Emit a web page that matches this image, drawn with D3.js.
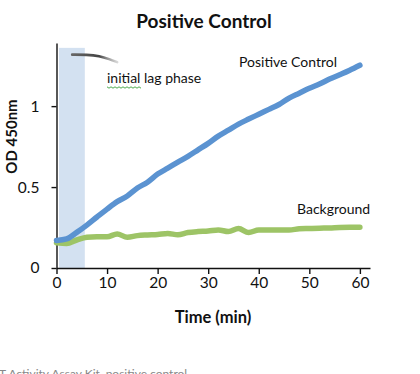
<!DOCTYPE html>
<html>
<head>
<meta charset="utf-8">
<script src="https://cdn.jsdelivr.net/npm/d3@7"></script>
<style>
  body { margin: 0; background: #fff; }
  text { font-family: Lato, "Open Sans", sans-serif; fill: #111; }
  .axis path, .axis line { stroke: #111; stroke-width: 1.4; }
  .axis text { font-size: 15.5px; }
</style>
</head>
<body>
<script>
// time points (min)
var minutes = [0,2,4,6,8,10,12,14,16,18,20,22,24,26,28,30,32,34,36,38,40,42,44,46,48,50,52,54,56,58,60];

// OD 450nm, positive control
var positive = [0.17,0.18,0.22,0.265,0.315,0.364,0.41,0.445,0.494,0.53,0.58,0.617,0.654,0.69,0.73,0.77,
                0.815,0.852,0.889,0.92,0.95,0.98,1.01,1.05,1.08,1.11,1.136,1.167,1.194,1.222,1.253];

// OD 450nm, background
var background = [0.156,0.152,0.173,0.19,0.193,0.193,0.21,0.19,0.2,0.204,0.207,0.213,0.205,0.219,0.225,0.228,
                  0.235,0.225,0.244,0.219,0.235,0.235,0.235,0.235,0.242,0.244,0.246,0.247,0.25,0.251,0.251];

var xTicks = [0,10,20,30,40,50,60];
var yTicks = [0,0.5,1];

// shaded lag window (min)
var lagWindow = [0.5, 5.6];

// grey pen stroke near the top of the shaded band [min, OD]
var penStroke = [[3.1,1.318],[6,1.318],[8.5,1.31],[10.5,1.29],[12,1.272]];

window.onload = drawChart();

function drawChart(){

    var width = 420,
        height = 374;

    var svg = d3.select("body")
        .append("svg")
        .attr("width", width)
        .attr("height", height);

    var x = d3.scaleLinear().domain([0, 62]).range([56.5, 370]);
    var y = d3.scaleLinear().domain([0, 1.39]).range([268, 43]);

    //lag phase shading
    svg.append("rect")
        .attr("x", x(lagWindow[0]))
        .attr("y", y(1.36))
        .attr("width", x(lagWindow[1]) - x(lagWindow[0]))
        .attr("height", y(0) - y(1.36))
        .attr("fill", "#d3e1f1");

    //pen stroke with fading end
    var grad = svg.append("defs").append("linearGradient")
        .attr("id", "fade")
        .attr("gradientUnits", "userSpaceOnUse")
        .attr("x1", x(penStroke[0][0])).attr("x2", x(penStroke[penStroke.length - 1][0]))
        .attr("y1", 0).attr("y2", 0);
    grad.append("stop").attr("offset", 0).attr("stop-color", "#666");
    grad.append("stop").attr("offset", 0.6).attr("stop-color", "#444");
    grad.append("stop").attr("offset", 1).attr("stop-color", "#999").attr("stop-opacity", 0.4);

    svg.append("path")
        .datum(penStroke)
        .attr("fill", "none")
        .attr("stroke", "url(#fade)")
        .attr("stroke-width", 2.6)
        .attr("stroke-linecap", "round")
        .attr("d", d3.line().x(function(d){ return x(d[0]); }).y(function(d){ return y(d[1]); }).curve(d3.curveBasis));

    //axes
    svg.append("g")
        .attr("class", "axis")
        .attr("transform", "translate(0," + y(0) + ")")
        .call(d3.axisBottom(x).tickValues(xTicks).tickSize(6).tickSizeOuter(0).tickPadding(2))
        .selectAll("text").attr("dy", "0.78em");

    svg.append("g")
        .attr("class", "axis")
        .attr("transform", "translate(" + x(0) + ",0)")
        .call(d3.axisLeft(y).tickValues(yTicks).tickSize(5).tickSizeOuter(0).tickPadding(12)
            .tickFormat(function(d){ return d === 0.5 ? "0.5" : d; }));

    //series
    var line = d3.line()
        .x(function(d, i){ return x(minutes[i]); })
        .y(function(d){ return y(d); })
        .curve(d3.curveMonotoneX);

    svg.append("path")
        .datum(background)
        .attr("fill", "none")
        .attr("stroke", "#9dc466")
        .attr("stroke-width", 5.5)
        .attr("stroke-linecap", "round")
        .attr("d", line);

    svg.append("path")
        .datum(positive)
        .attr("fill", "none")
        .attr("stroke", "#5b93d1")
        .attr("stroke-width", 5.5)
        .attr("stroke-linecap", "round")
        .attr("d", line);

    //labels
    svg.append("text")
        .attr("x", 204).attr("y", 28)
        .attr("text-anchor", "middle")
        .style("font-size", "19px").style("font-weight", "bold")
        .text("Positive Control");

    svg.append("text")
        .attr("x", 107).attr("y", 83)
        .style("font-size", "14px")
        .text("initial lag phase");

    //spell-check squiggle under "initial"
    var sq = d3.range(0, 36, 2).map(function(d, i){ return [107 + d, 87 + (i % 2 ? 1.2 : -0.2)]; });
    svg.append("path")
        .datum(sq)
        .attr("fill", "none")
        .attr("stroke", "#3aa03a")
        .attr("stroke-width", 0.9)
        .attr("d", d3.line());

    svg.append("text")
        .attr("x", 239).attr("y", 67)
        .style("font-size", "14px")
        .text("Positive Control");

    svg.append("text")
        .attr("x", 297).attr("y", 214)
        .style("font-size", "14px")
        .text("Background");

    svg.append("text")
        .attr("x", 213).attr("y", 323)
        .attr("text-anchor", "middle")
        .style("font-size", "16.5px").style("font-weight", "bold")
        .text("Time (min)");

    svg.append("text")
        .attr("transform", "translate(17,136.5) rotate(-90)")
        .attr("text-anchor", "middle")
        .style("font-size", "15px").style("font-weight", "bold")
        .text("OD 450nm");

    //caption at the bottom edge, partly cut off as in the source
    svg.append("text")
        .attr("x", -1).attr("y", 378)
        .style("font-size", "12px")
        .style("fill", "#888")
        .text("T Activity Assay Kit, positive control");
}
</script>
</body>
</html>
